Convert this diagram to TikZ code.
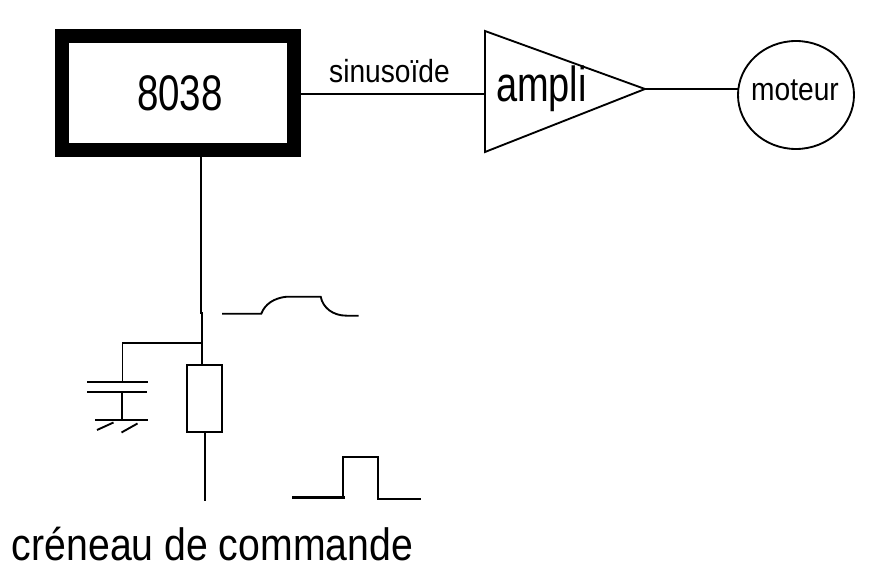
\documentclass[tikz,border=0pt]{standalone}
\usepackage{fontspec}
\usetikzlibrary{shapes.geometric}
\setmainfont{Liberation Sans}
\tikzset{wire/.style={draw=black,line width=1.4pt},
lbl/.style={inner sep=0pt,anchor=base,text=black}}
\begin{document}
\begin{tikzpicture}[x=0.75pt,y=-0.75pt]
\useasboundingbox (0,0) rectangle (876,581);
\node[draw=black,line width=10.5pt,minimum width=174pt,minimum height=85.5pt,inner sep=0pt] (chip) at (178,93) {};
\node[lbl,font=\fontsize{37.5}{37.5}\selectfont,xscale=0.77] (t) at (180,111) {8038};
\coordinate (amplin) at (485,94);
\coordinate (amptop) at (485,31);
\coordinate (ampbot) at (485,152);
\coordinate (amptip) at (645,89);
\draw[wire,line join=miter] (amptop) -- (amptip) -- (ampbot) -- cycle;
\node[lbl,font=\fontsize{37}{37}\selectfont,xscale=0.77] (a) at (541.5,101.5) {ampli};
\node[lbl,font=\fontsize{24}{24}\selectfont,xscale=0.88] (s) at (389.5,82.5) {sinusoïde};
\draw[wire] (chip.east |- amplin) -- (amplin);
\node[draw=black,line width=1.4pt,ellipse,minimum width=87pt,minimum height=81pt,inner sep=0pt] (m) at (796,95) {};
\node[lbl,font=\fontsize{24}{24}\selectfont,xscale=0.88] (mt) at (795,101) {moteur};
\coordinate (mw) at (738,89);
\draw[wire] (amptip) -- (mw);
\coordinate (cs) at (201,157);
\coordinate (kink) at (201,313);
\coordinate (kink2) at (202,313);
\coordinate (j) at (202,343);
\draw[wire] (cs) -- (kink) -- (kink2) -- (j);
\node[draw=black,line width=1.4pt,minimum width=26.5pt,minimum height=50.5pt,inner sep=0pt] (r) at (204.5,398.5) {};
\coordinate (rt) at (202,365);
\draw[wire] (j) -- (rt);
\coordinate (rb) at (205,432);
\coordinate (e) at (205,501);
\draw[wire] (rb) -- (e);
\coordinate (c) at (122.5,343);
\coordinate (p1) at (122.5,382);
\coordinate (p2) at (122,392);
\coordinate (g) at (122,420);
\draw[wire] (j) -- (c) -- (p1);
\draw[wire] (87,382) -- (148,382);
\draw[wire] (87,392) -- (147,392);
\draw[wire] (p2) -- (g);
\draw[wire] (95,420) -- (148,420);
\draw[wire] (97,430) -- (113.5,422.5);
\draw[wire] (121.5,432.5) -- (137.5,423.5);
\draw[wire] (222,313.7) -- (261.3,313.7) .. controls (265,304) and (274,298) .. (286.7,296.7) -- (320.7,296.7) .. controls (323,308) and (333,315.7) .. (346.7,315.7) -- (358.7,315.7);
\draw[draw=black,line width=2pt] (292,497.3) -- (344.7,497.3);
\draw[wire] (343,497.3) -- (343,456.7) -- (378.3,456.7) -- (378.3,498.7) -- (420.7,498.7);
\node[lbl,font=\fontsize{34}{34}\selectfont,xscale=0.865] (cr) at (212.5,560.7) {créneau de commande};
\end{tikzpicture}
\end{document}
